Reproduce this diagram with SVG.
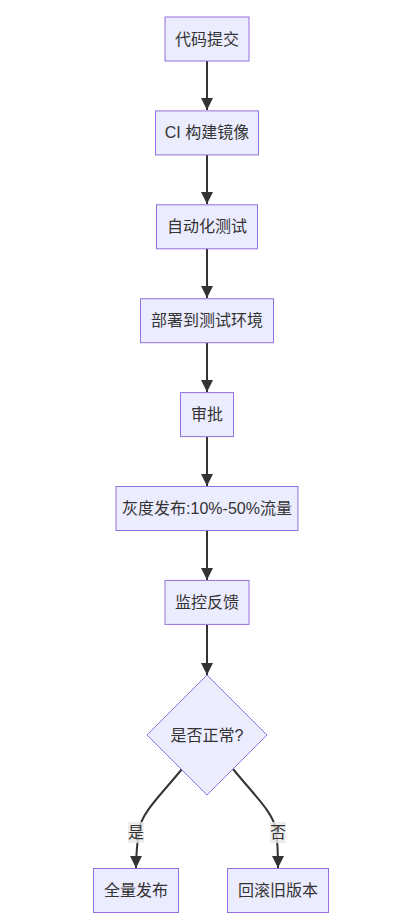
<svg xmlns="http://www.w3.org/2000/svg" width="408" height="922" viewBox="0 0 408 922">
<style>
.node rect, .node polygon { fill: #ECECFF; stroke: #9370DB; stroke-width: 1; }
text { font-family: "Liberation Sans", "Noto Sans CJK SC", sans-serif; font-size: 16px; fill: #333; text-anchor: middle; }
.edge { fill: none; stroke: #333; stroke-width: 2; }
.lbl { fill: #e8e8e8; opacity: 0.8; }
</style>
<defs>
<marker id="arrow" markerUnits="userSpaceOnUse" markerWidth="12" markerHeight="12" viewBox="0 0 10 10" refX="10" refY="5" orient="auto">
<path d="M0,0 L10,5 L0,10 z" fill="#333"/>
</marker>
</defs>
<rect width="408" height="922" fill="#ffffff"/>
<g id="connectors">
<path class="edge" d="M207,61 L207,110" marker-end="url(#arrow)"/>
<path class="edge" d="M207,155 L207,204" marker-end="url(#arrow)"/>
<path class="edge" d="M207,249 L207,298" marker-end="url(#arrow)"/>
<path class="edge" d="M207,343 L207,392" marker-end="url(#arrow)"/>
<path class="edge" d="M207,437 L207,486" marker-end="url(#arrow)"/>
<path class="edge" d="M207,531 L207,580" marker-end="url(#arrow)"/>
<path class="edge" d="M207,625 L207,675" marker-end="url(#arrow)"/>
<path class="edge" d="M182,769 C160,796 142,812 139,830 C137,845 136,855 136,868" marker-end="url(#arrow)"/>
<path class="edge" d="M233,769 C255,796 273,812 276,830 C278,845 278,855 278,868" marker-end="url(#arrow)"/>
<g id="label-yes">
<rect class="lbl" x="128" y="822" width="16" height="21"/>
<text x="136" y="838">是</text>
</g>
<g id="label-no">
<rect class="lbl" x="270" y="822" width="16" height="21"/>
<text x="278" y="838">否</text>
</g>
</g>
<g id="n1" class="node"><rect x="165" y="17" width="84" height="44"/><text x="207" y="44.5">代码提交</text></g>
<g id="n2" class="node"><rect x="155.5" y="110.9" width="103" height="44"/><text x="207" y="138.4">CI 构建镜像</text></g>
<g id="n3" class="node"><rect x="156.5" y="204.8" width="101" height="44"/><text x="207" y="232.3">自动化测试</text></g>
<g id="n4" class="node"><rect x="140.5" y="298.7" width="133" height="44"/><text x="207" y="326.2">部署到测试环境</text></g>
<g id="n5" class="node"><rect x="180.5" y="392.6" width="53" height="44"/><text x="207" y="420.1">审批</text></g>
<g id="n6" class="node"><rect x="116" y="486.5" width="182" height="44"/><text x="207" y="514">灰度发布:10%-50%流量</text></g>
<g id="n7" class="node"><rect x="165" y="580.4" width="84" height="44"/><text x="207" y="607.9">监控反馈</text></g>
<g id="n8" class="node"><polygon points="207,675 267,735 207,795 147,735"/><text x="207" y="740.5">是否正常?</text></g>
<g id="n9" class="node"><rect x="93.5" y="868.5" width="85" height="44"/><text x="136" y="896">全量发布</text></g>
<g id="n10" class="node"><rect x="227.5" y="868.5" width="101" height="44"/><text x="278" y="896">回滚旧版本</text></g>
</svg>
